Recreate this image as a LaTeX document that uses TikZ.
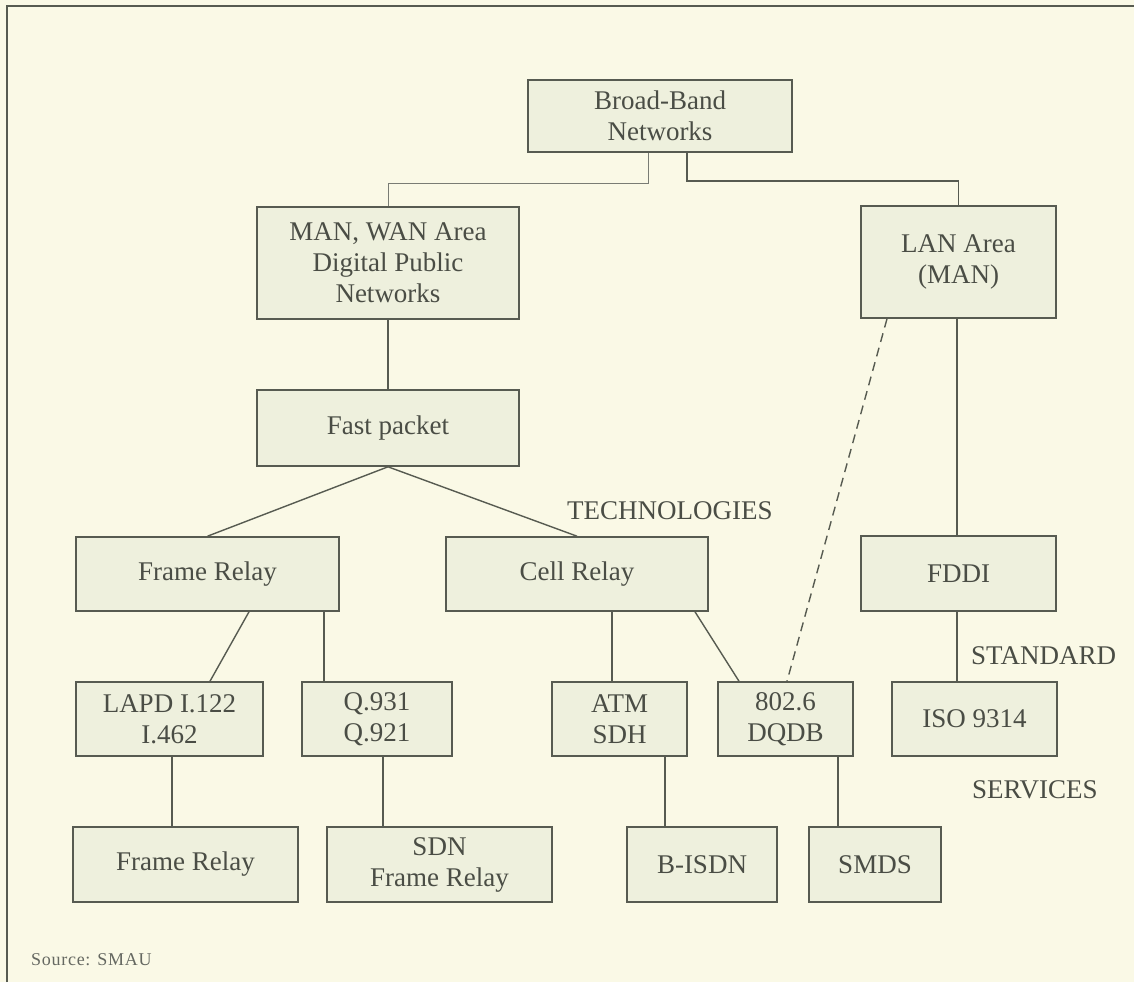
\documentclass[tikz,border=0pt]{standalone}
\usepackage{fontspec}
\setmainfont{Liberation Serif}
\usetikzlibrary{calc}

\definecolor{paper}{HTML}{FAF9E6}
\definecolor{boxfill}{HTML}{EEF0DD}
\definecolor{ink}{HTML}{575B51}
\definecolor{textink}{HTML}{4A4D45}

\tikzset{
  box/.style={draw=ink, line width=1.6pt, fill=boxfill, inner sep=0pt,
    align=center, text=textink,
    font=\fontsize{27}{31}\selectfont},
  link/.style={draw=ink, line width=1.4pt},
  thinlink/.style={draw=ink!80, line width=1pt},
  dashlink/.style={draw=ink, line width=1.4pt, dash pattern=on 9pt off 6pt},
  tag/.style={text=textink, inner sep=0pt, font=\fontsize{27}{31}\selectfont},
  frameline/.style={draw=ink, line width=2pt}
}

\begin{document}
\begin{tikzpicture}[x=1pt, y=-1pt]
  % page and frame
  \fill[paper] (0,0) rectangle (1134,982);
  \useasboundingbox (0,0) rectangle (1134,982);
  \draw[frameline] (7,982) -- (7,6) -- (1134,6);

  % top level
  \node[box, minimum width=264, minimum height=72] (bb) at (660,116) {Broad-Band\\Networks};
  \node[box, minimum width=262, minimum height=112] (man) at (388,263) {MAN, WAN Area\\Digital Public\\Networks};
  \node[box, minimum width=195, minimum height=112] (lan) at (958.5,262) {LAN Area\\(MAN)};

  % technologies
  \node[box, minimum width=262, minimum height=76] (fp) at (388,428) {Fast packet};
  \node[box, minimum width=263, minimum height=74] (fr) at (207.5,574) {Frame Relay};
  \node[box, minimum width=262, minimum height=74] (cr) at (577,574) {Cell Relay};
  \node[box, minimum width=195, minimum height=75] (fddi) at (958.5,573.5) {FDDI};

  % standards
  \node[box, minimum width=187, minimum height=74] (lapd) at (169.5,719) {LAPD I.122\\I.462};
  \node[box, minimum width=150, minimum height=74] (q) at (377,719) {Q.931\\Q.921};
  \node[box, minimum width=135, minimum height=74] (atm) at (619.5,719) {ATM\\SDH};
  \node[box, minimum width=135, minimum height=74] (dqdb) at (785.5,719) {802.6\\DQDB};
  \node[box, minimum width=165, minimum height=74] (iso) at (974.5,719) {ISO 9314};

  % services
  \node[box, minimum width=225, minimum height=75] (fr2) at (185.5,864.5) {Frame Relay};
  \node[box, minimum width=225, minimum height=75] (sdn) at (439.5,864.5) {SDN\\Frame Relay};
  \node[box, minimum width=150, minimum height=75] (bisdn) at (702,864.5) {B-ISDN};
  \node[box, minimum width=132, minimum height=75] (smds) at (875,864.5) {SMDS};

  % level labels
  \node[tag, anchor=west] (ltech) at (567,511) {TECHNOLOGIES};
  \node[tag, anchor=west] (lstd) at (971,656) {STANDARD};
  \node[tag, anchor=west] (lserv) at (972,790) {SERVICES};
  \node[anchor=west, inner sep=0pt, text=textink!85,
        font=\fontsize{18}{20}\selectfont\addfontfeatures{LetterSpace=4}] (src) at (31,960) {Source: SMAU};

  % connectors
  \draw[thinlink] ($(bb.south)+(-12,0)$) -- ++(0,31) -| (man.north);
  \draw[link] ($(bb.south)+(27,0)$) -- ++(0,28) -| (lan.north);
  \draw[link] (man.south) -- (fp.north);
  \draw[link] (fr.north) -- (fp.south) -- (cr.north);
  \draw[link] ([xshift=41.5]fr.south) -- ([xshift=40.5]lapd.north);
  \draw[link] ([xshift=116.5]fr.south) coordinate (frq) -- (frq |- q.north);
  \draw[link] ([xshift=35]cr.south) coordinate (cra) -- (cra |- atm.north);
  \draw[link] ([xshift=118]cr.south) -- ([xshift=-46.5]dqdb.north);
  \draw[dashlink] ([xshift=-71.5]lan.south) -- ([xshift=1.5]dqdb.north);
  \draw[link] ([xshift=-1.5]lan.south) coordinate (lf) -- (lf |- fddi.north);
  \draw[link] ([xshift=-1.5]fddi.south) coordinate (fi) -- (fi |- iso.north);
  \draw[link] ([xshift=2.5]lapd.south) coordinate (lr) -- (lr |- fr2.north);
  \draw[link] ([xshift=6]q.south) coordinate (qs) -- (qs |- sdn.north);
  \draw[link] ([xshift=45.5]atm.south) coordinate (ab) -- (ab |- bisdn.north);
  \draw[link] ([xshift=52.5]dqdb.south) coordinate (ds) -- (ds |- smds.north);
\end{tikzpicture}
\end{document}
